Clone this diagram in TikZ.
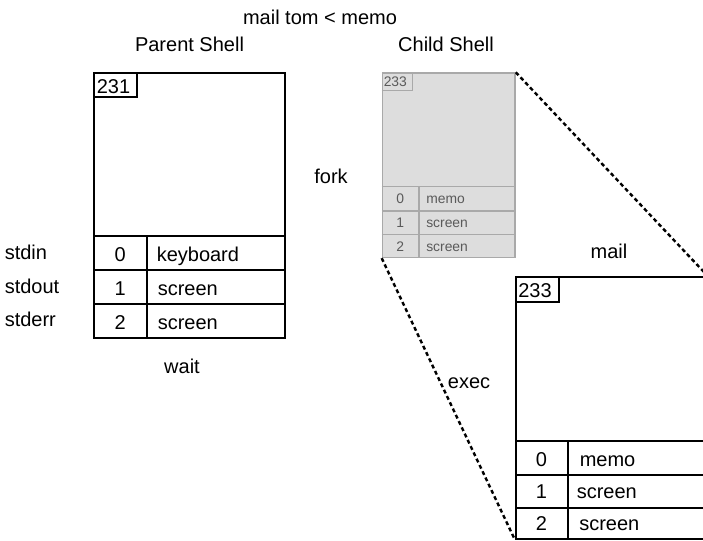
\documentclass[tikz,border=0pt]{standalone}
\usepackage{fontspec}
\setmainfont{Liberation Sans}
\definecolor{childfill}{HTML}{DDDDDD}
\definecolor{childline}{HTML}{A9A9A9}
\definecolor{childtext}{HTML}{5A5A5A}
\begin{document}
\begin{tikzpicture}[x=0.75pt,y=-0.75pt,
  lbl/.style={inner sep=0pt, font=\fontsize{15}{17}\selectfont},
  small/.style={inner sep=0pt, font=\fontsize{10.4}{12}\selectfont, text=childtext},
  frame/.style args={#1x#2}{draw, rectangle, inner sep=0pt, anchor=north west,
    minimum width=#1*0.75pt, minimum height=#2*0.75pt},
  bold/.style={line width=1.5pt},
  soft/.style={line width=1.1pt, draw=childline},
  link/.style={line width=1.8pt, dash pattern=on 3pt off 2.2pt}]
\useasboundingbox (0,0) rectangle (703,541);
\clip (0,0) rectangle (703,541);

% headings
\node[lbl, anchor=base] (cmd) at (320,25) {mail tom < memo};
\node[lbl, anchor=base] (ptitle) at (189.5,51.7) {Parent Shell};
\node[lbl, anchor=base] (ctitle) at (446,51.7) {Child Shell};

% parent shell process table
\node[frame=190.7x265, bold] (parent) at (93.3,72.3) {};
\draw[bold] (93.3,96.7) -| (137.3,72.3);
\draw[bold] (93.3,235.7) -- (284,235.7)
            (93.3,270) -- (284,270)
            (93.3,304.3) -- (284,304.3)
            (147.3,235.7) -- (147.3,337.3);
\node[lbl, anchor=base west] (ppid) at (96.5,93.3) {231};
\node[lbl, anchor=base] (pfd0) at (120.3,261.7) {0};
\node[lbl, anchor=base] (pfd1) at (120.3,296) {1};
\node[lbl, anchor=base] (pfd2) at (120.3,329.6) {2};
\node[lbl, anchor=base west] (pdev0) at (156.5,261.7) {keyboard};
\node[lbl, anchor=base west] (pdev1) at (157.5,296) {screen};
\node[lbl, anchor=base west] (pdev2) at (157.5,329.6) {screen};

\node[lbl, anchor=base west] (stdin) at (4.5,260) {stdin};
\node[lbl, anchor=base west] (stdout) at (4.5,293.3) {stdout};
\node[lbl, anchor=base west] (stderr) at (4.5,326.7) {stderr};
\node[lbl, anchor=base] (wait) at (182,373.3) {wait};
\node[lbl, anchor=base] (fork) at (331,183.3) {fork};

% child shell process table (after fork)
\node[frame=132.6x184.4, soft, fill=childfill] (child) at (381.7,72.3) {};
\draw[soft] (381.7,90.7) -| (412.3,72.3);
\draw[soft] (381.7,186.7) -- (514.3,186.7)
            (381.7,211) -- (514.3,211)
            (381.7,234.3) -- (514.3,234.3)
            (419,186.7) -- (419,256.7);
\node[small, anchor=base west] (cpid) at (383.5,86.7) {233};
\node[small, anchor=base] (cfd0) at (400.3,204) {0};
\node[small, anchor=base] (cfd1) at (400.3,228) {1};
\node[small, anchor=base] (cfd2) at (400.3,251.5) {2};
\node[small, anchor=base west] (cdev0) at (426,204) {memo};
\node[small, anchor=base west] (cdev1) at (426,228) {screen};
\node[small, anchor=base west] (cdev2) at (426,251.5) {screen};

% mail process table (after exec)
\node[frame=190.7x262, bold] (mail) at (515,276) {};
\draw[bold] (515,302.3) -| (559,276);
\draw[bold] (515,440.7) -- (706,440.7)
            (515,475) -- (706,475)
            (515,508.3) -- (706,508.3)
            (568,440.7) -- (568,538);
\node[lbl, anchor=base west] (mpid) at (518,297.3) {233};
\node[lbl, anchor=base] (mfd0) at (541.5,466.7) {0};
\node[lbl, anchor=base] (mfd1) at (541.5,498.7) {1};
\node[lbl, anchor=base] (mfd2) at (541.5,530) {2};
\node[lbl, anchor=base west] (mdev0) at (579.5,466.7) {memo};
\node[lbl, anchor=base west] (mdev1) at (576.5,498.7) {screen};
\node[lbl, anchor=base west] (mdev2) at (579,530) {screen};
\node[lbl, anchor=base] (mailname) at (609,258.3) {mail};
\node[lbl, anchor=base] (exec) at (469,388.3) {exec};

% exec: child image expands into the mail process
\draw[link] (child.north east) -- (mail.north east);
\draw[link] (child.south west) -- (mail.south west);
\end{tikzpicture}
\end{document}
